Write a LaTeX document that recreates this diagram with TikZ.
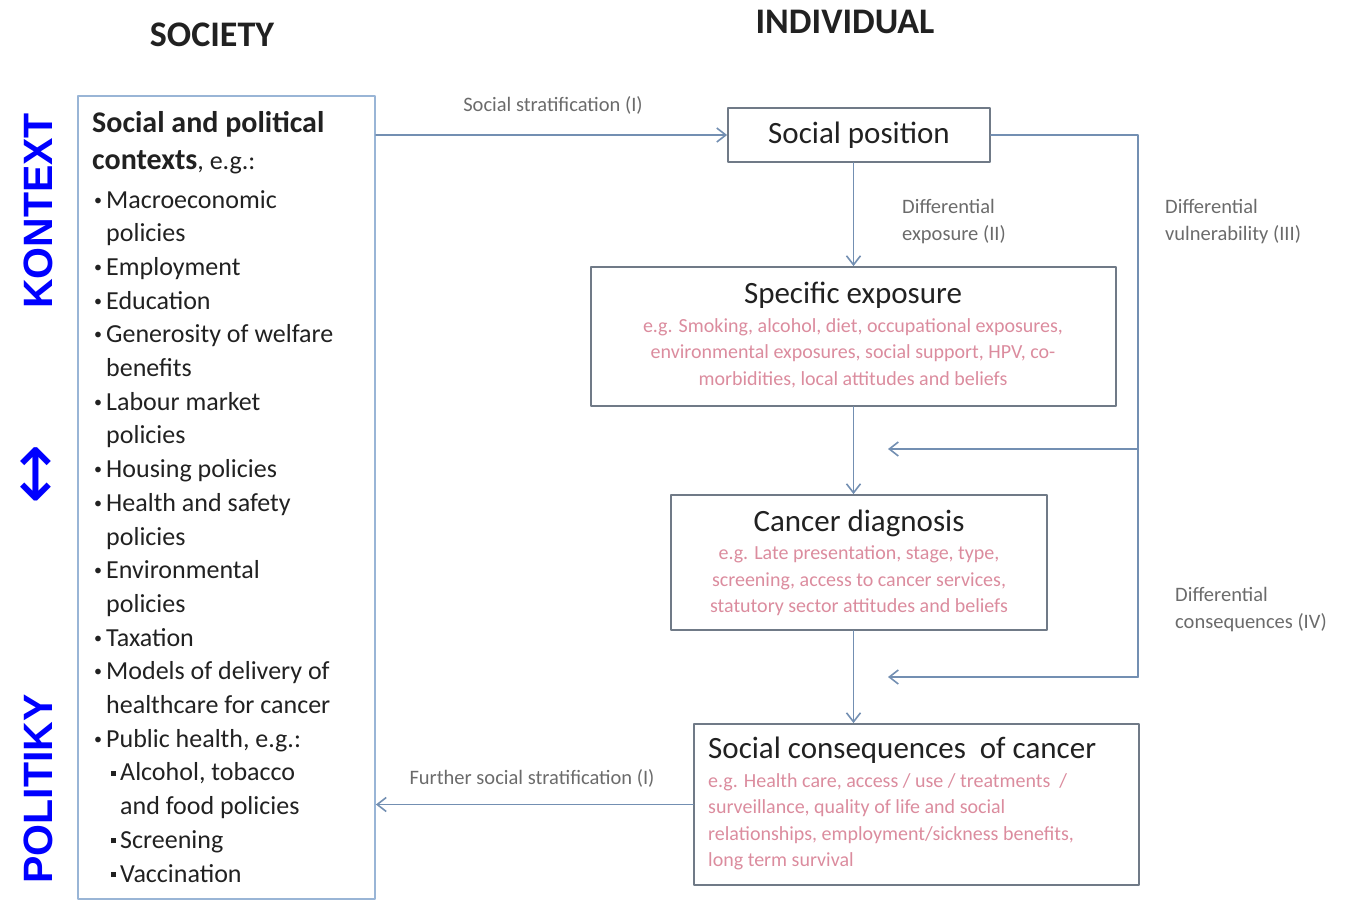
\documentclass[tikz,border=0pt]{standalone}
\usepackage{fontspec}
\setmainfont{Carlito}
\newfontfamily\arialfont{Liberation Sans}
\newfontfamily\symfont{DejaVu Sans}
\usetikzlibrary{arrows,arrows.meta}
\definecolor{qqqqff}{rgb}{0.,0.,1.}
\definecolor{ttsszz}{rgb}{0.45,0.56,0.7}
\definecolor{wwuuvv}{rgb}{0.44,0.48,0.53}
\definecolor{bbccdd}{rgb}{0.6,0.71,0.84}
\definecolor{ccttzz}{rgb}{0.86,0.55,0.62}
\definecolor{uuuuuu}{rgb}{0.42,0.42,0.42}
\definecolor{ssssss}{rgb}{0.13,0.13,0.13}
\newcommand{\socitem}[1]{\makebox[12pt][l]{\raisebox{3pt}{\fontsize{16}{16}\selectfont\textbullet}}#1}
\newcommand{\socind}{\hspace*{12pt}}
\newcommand{\socsub}[1]{\hspace*{17pt}\makebox[9pt][l]{\rule[5pt]{5pt}{5pt}}#1}

\begin{document}
\begin{tikzpicture}[line cap=round,line join=round,>={Straight Barb[length=9pt,width=14pt]},x=1pt,y=-1pt,
	con/.style={line width=1.6pt,color=ttsszz},
	box/.style={draw=wwuuvv,line width=1.8pt,inner sep=0pt},
	lbl/.style={inner sep=0pt,color=uuuuuu,align=left,font=\fontsize{20.5}{27}\selectfont},
	sub/.style={inner sep=0pt,color=ccttzz,font=\fontsize{20}{26.5}\selectfont},
	ttl/.style={inner sep=0pt,text=ssssss,font=\fontsize{31}{36}\selectfont},
	side/.style={inner sep=0pt,color=qqqqff,rotate=90,font=\arialfont\bfseries\fontsize{41}{41}\selectfont}]
		\useasboundingbox (0,0) rectangle (1353,902);
		% headings
		\node[inner sep=0pt,color=ssssss,font=\bfseries\fontsize{36}{40}\selectfont] (hsoc) at (212,35) {SOCIETY};
		\node[inner sep=0pt,color=ssssss,font=\bfseries\fontsize{36}{40}\selectfont] (hind) at (845,22) {INDIVIDUAL};
		\node[side] (kontext) at (38,211) {KONTEXT};
		\node[side,font=\symfont\fontsize{72}{72}\selectfont] (dbl) at (40,474) {↔};
		\node[side] (politiky) at (38,789) {POLITIKY};
		% society box
		\node[box,draw=bbccdd,minimum width=297,minimum height=803] (soc) at (226.5,497.5) {};
		\node[anchor=west,inner sep=0pt,color=ssssss,font=\bfseries\fontsize{30}{38}\selectfont] (soct1) at (92,124) {Social and political};
		\node[anchor=west,inner sep=0pt,color=ssssss,font=\bfseries\fontsize{30}{38}\selectfont] (soct2) at (92,162) {contexts{\mdseries\fontsize{26}{30}\selectfont, e.g.:}};
		\node[anchor=north west,inner sep=0pt,align=left,color=ssssss,font=\fontsize{26}{33.7}\selectfont] (socl) at (94,190) {\socitem{Macroeconomic}\\
			\socind policies\\
			\socitem{Employment}\\
			\socitem{Education}\\
			\socitem{Generosity of welfare}\\
			\socind benefits\\
			\socitem{Labour market}\\
			\socind policies\\
			\socitem{Housing policies}\\
			\socitem{Health and safety}\\
			\socind policies\\
			\socitem{Environmental}\\
			\socind policies\\
			\socitem{Taxation}\\
			\socitem{Models of delivery of}\\
			\socind healthcare for cancer\\
			\socitem{Public health, e.g.:}\\
			\socsub{Alcohol, tobacco}\\
			\hspace*{26pt}and food policies\\
			\socsub{Screening}\\
			\socsub{Vaccination}};
		% individual boxes
		\node[box,ttl,minimum width=262,minimum height=54] (pos) at (859,135) {Social position};
		\node[box,minimum width=525,minimum height=139] (expo) at (853.5,336.5) {};
		\node[ttl] (expot) at (853,295) {Specific exposure};
		\node[sub,align=center] (expos) at (853,353) {e.g. Smoking, alcohol, diet, occupational exposures,\\environmental exposures, social support, HPV, co-\\morbidities, local attitudes and beliefs};
		\node[box,minimum width=376,minimum height=135] (diag) at (859,562.5) {};
		\node[ttl] (diagt) at (859,523) {Cancer diagnosis};
		\node[sub,align=center] (diags) at (859,581) {e.g. Late presentation, stage, type,\\screening, access to cancer services,\\statutory sector attitudes and beliefs};
		\node[box,minimum width=445,minimum height=161] (cons) at (916.5,804.5) {};
		\node[ttl,anchor=west] (const) at (708,750) {Social consequences\ \ of cancer};
		\node[sub,align=left,anchor=west] (conss) at (708,822) {e.g. Health care, access / use / treatments\ \ /\\surveillance, quality of life and social\\relationships, employment/sickness benefits,\\long term survival};
		% labels
		\node[lbl] (strat1) at (553,105) {Social stratification (I)};
		\node[lbl] (strat2) at (532,778) {Further social stratification (I)};
		\node[lbl,anchor=west] (diff2) at (902,221.5) {Differential\\exposure (II)};
		\node[lbl,anchor=west] (diff3) at (1165,221.5) {Differential\\vulnerability (III)};
		\node[lbl,anchor=west] (diff4) at (1175,609.5) {Differential\\consequences (IV)};
		% connectors
		\coordinate (vr) at (1138,135);
		\coordinate (v3) at (1138,449);
		\coordinate (vb) at (1138,677);
		\coordinate (a3) at (888,449);
		\coordinate (a4) at (888,677);
		\draw [con,->] (pos.west -| soc.east)-- (pos.west);
		\draw [con,->] (expo.north |- pos.south)-- (expo.north);
		\draw [con,->] (expo.south)-- (expo.south |- diag.north);
		\draw [con,->] (diag.south -| expo.south)-- (expo.south |- cons.north);
		\draw [con,->] (cons.west)-- (cons.west -| soc.east);
		\draw [con] (pos.east)-- (vr)-- (vb);
		\draw [con,->] (v3)-- (a3);
		\draw [con,->] (vb)-- (a4);
\end{tikzpicture}
\end{document}
